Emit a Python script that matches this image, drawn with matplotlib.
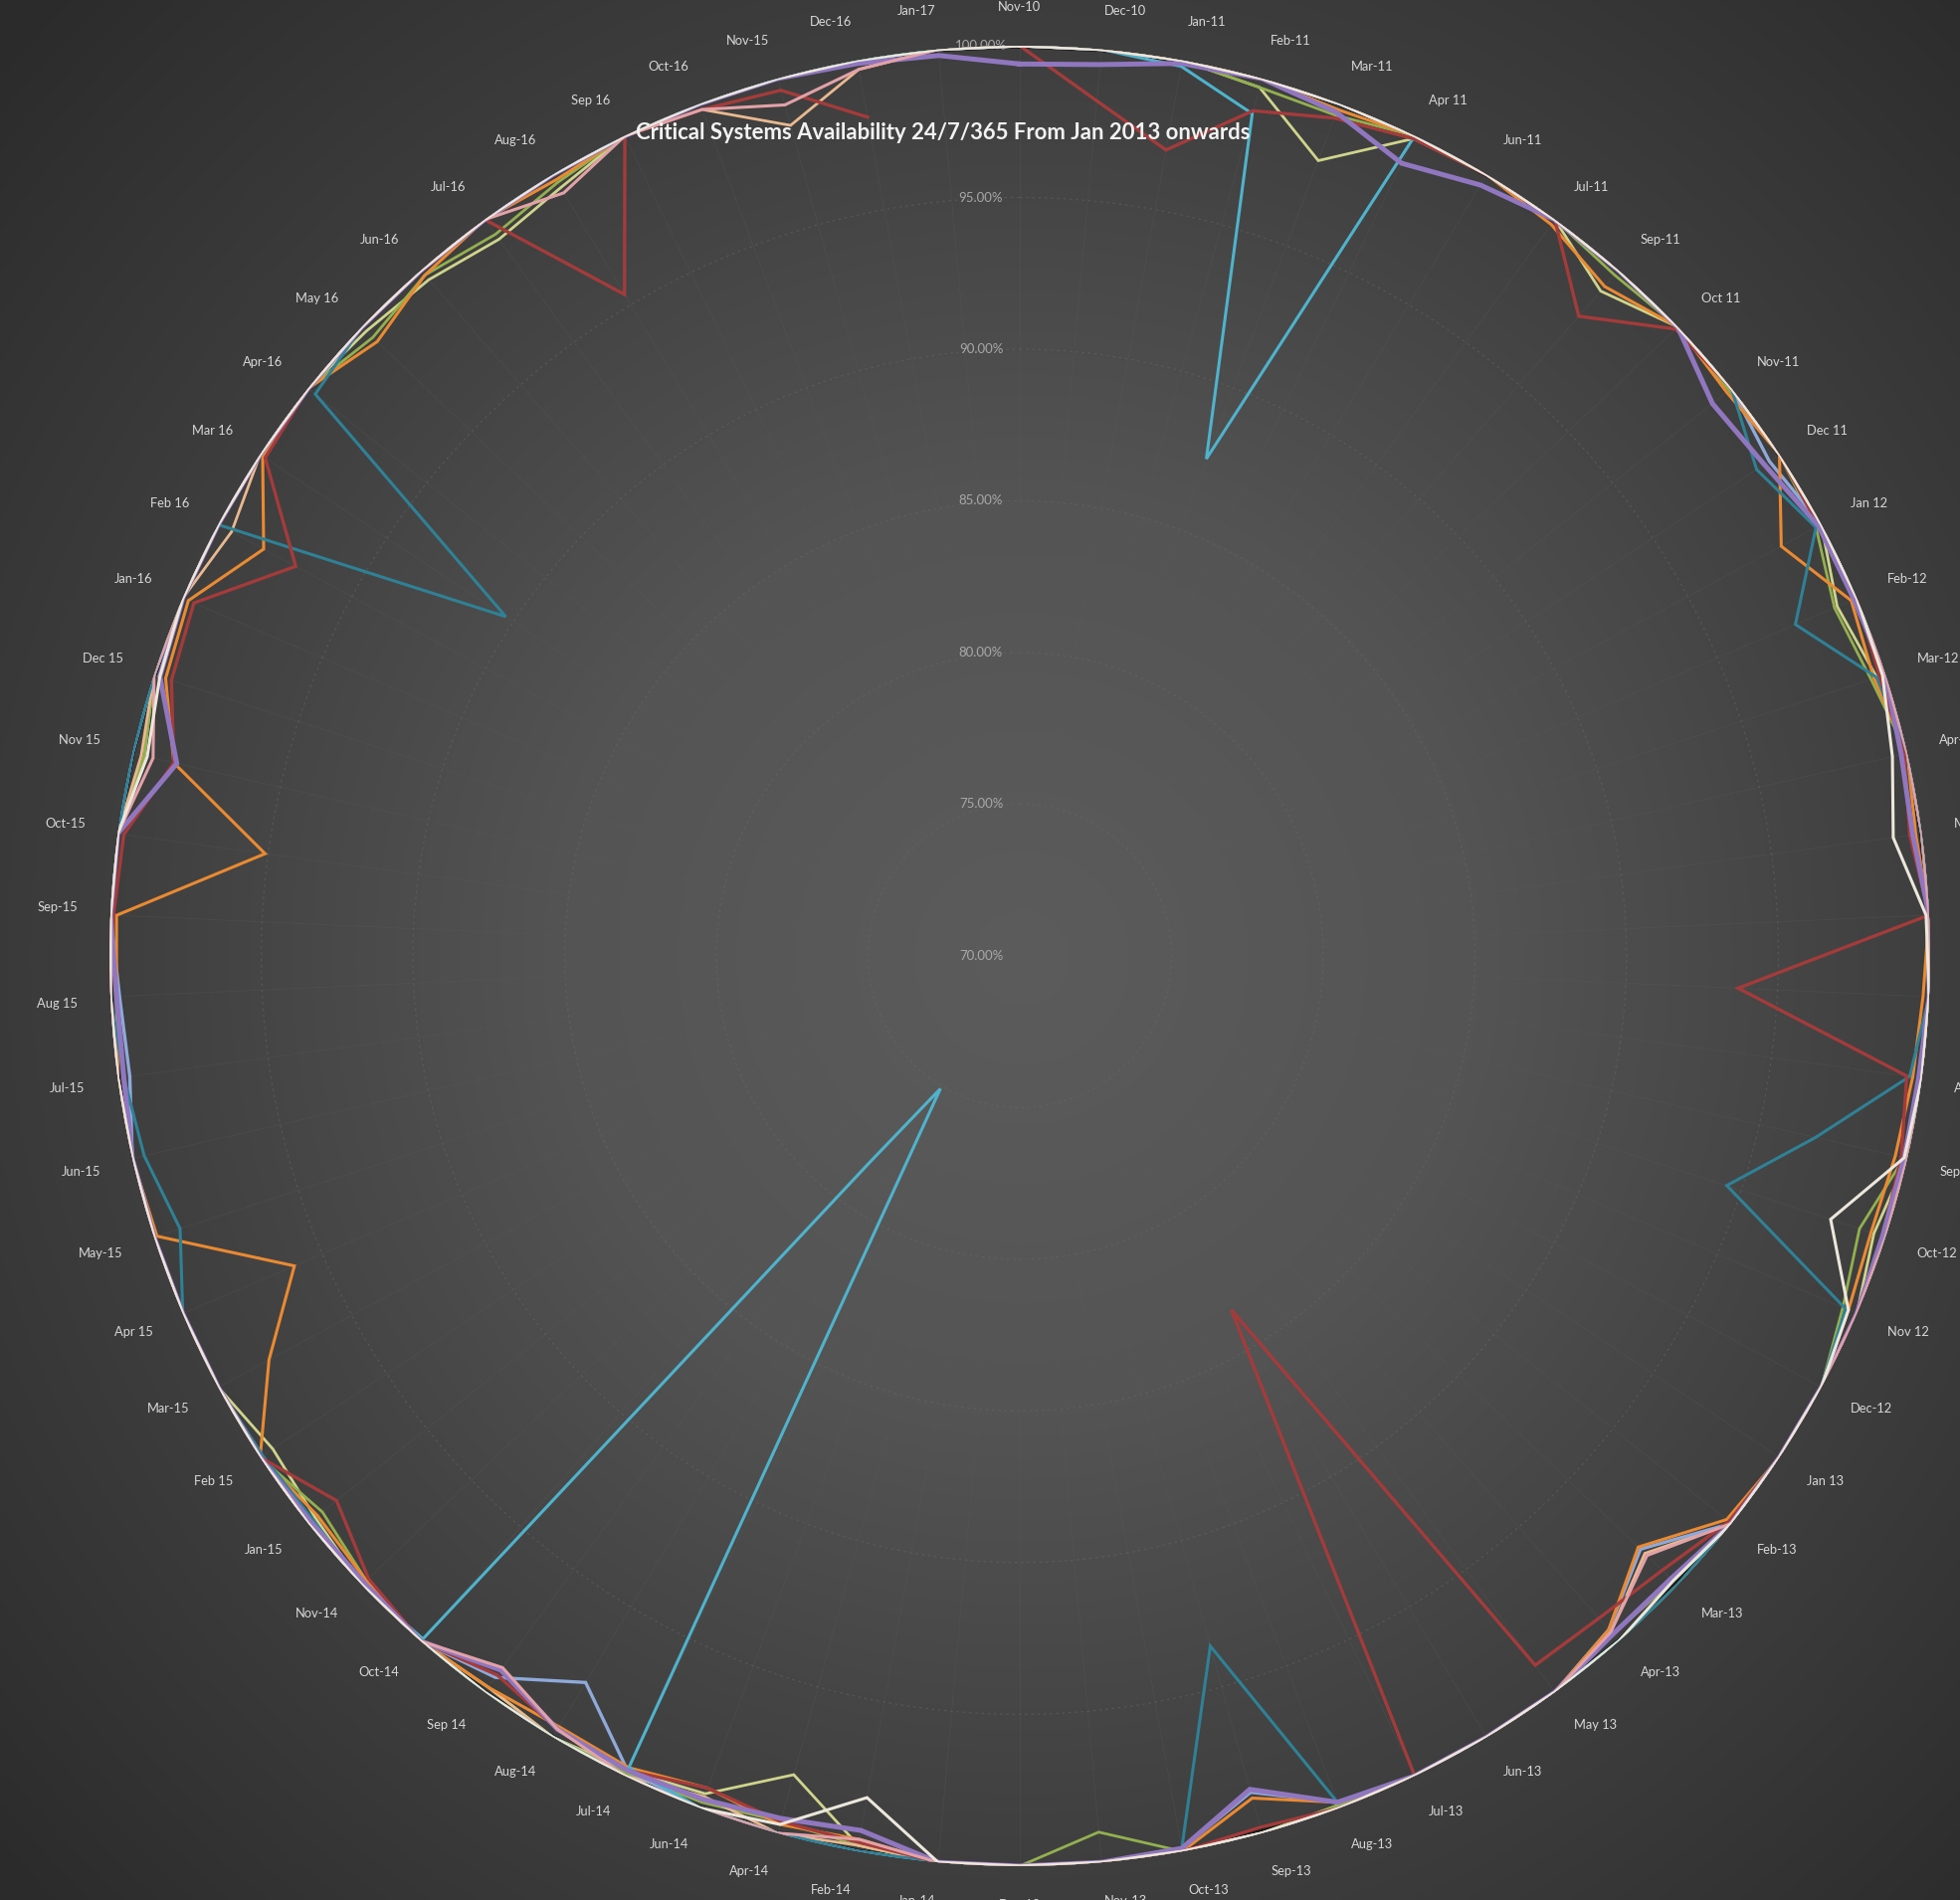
import numpy as np
import matplotlib
matplotlib.use("Agg")
import matplotlib.pyplot as plt

plt.rcParams['font.family'] = ['Lato', 'DejaVu Sans']

categories = ['Nov-10', 'Dec-10', 'Jan-11', 'Feb-11', 'Mar-11', 'Apr 11', 'Jun-11', 'Jul-11', 'Sep-11', 'Oct 11',
              'Nov-11', 'Dec 11', 'Jan 12', 'Feb-12', 'Mar-12', 'Apr-12', 'May-12', 'Jun-12', 'Jul-12', 'Aug-12',
              'Sep-12', 'Oct-12', 'Nov 12', 'Dec-12', 'Jan 13', 'Feb-13', 'Mar-13', 'Apr-13', 'May 13', 'Jun-13',
              'Jul-13', 'Aug-13', 'Sep-13', 'Oct-13', 'Nov-13', 'Dec-13', 'Jan-14', 'Feb-14', 'Apr-14', 'Jun-14',
              'Jul-14', 'Aug-14', 'Sep 14', 'Oct-14', 'Nov-14', 'Jan-15', 'Feb 15', 'Mar-15', 'Apr 15', 'May-15',
              'Jun-15', 'Jul-15', 'Aug 15', 'Sep-15', 'Oct-15', 'Nov 15', 'Dec 15', 'Jan-16', 'Feb 16', 'Mar 16',
              'Apr-16', 'May 16', 'Jun-16', 'Jul-16', 'Aug-16', 'Sep 16', 'Oct-16', 'Nov-15', 'Dec-16', 'Jan-17']

radial_ticks = [70, 75, 80, 85, 90, 95, 100]
radial_labels = ['70.00%', '75.00%', '80.00%', '85.00%', '90.00%', '95.00%', '100.00%']

nan = float('nan')

sys_black = [100, 100, 100, 100, 100, 100, 100, 100, 100, 100,
             100, 100, 100, 100, 100, 100, 100, 100, 100, 100,
             100, 100, 100, 100, 100, 100, 99.9, 100, 100, 100,
             100, 100, 99.9, 100, 100, 100, 100, 100, 100, 100,
             100, 100, 100, 100, 100, 100, 100, 100, 100, 100,
             100, 100, 100, 100, 100, 100, 100, 100, 100, 100,
             100, 100, 100, 100, 100, 100, 100, 100, 100, 100]

sys_cream = [100, 100, 100, 100, 100, 100, 100, 100, 100, 100,
             100, 100, 100, 100, 99.9, 99.5, 99.05, 99.9, 100, 100,
             99.9, 98.1, 99.7, 100, 100, 100, 99.8, 100, 100, 100,
             100, 100, 100, 100, 100, 100, 100, 98.2, 99.7, 100,
             100, 100, 100, 100, 100, 100, 100, 100, 100, 100,
             100, 100, 100, 100, 100, 99.5, 99.8, 100, 100, 100,
             100, 100, 100, 100, 100, 100, 100, 100, 100, 100]

sys_peach = [100, 100, 100, 100, 100, 100, 100, 100, 100, 100,
             100, 100, 100, 100, 100, 100, 100, 100, 100, 100,
             100, 100, 100, 100, 100, 100, 98.5, 99.6, 100, 100,
             100, 100, 100, 100, 100, 100, 100, 99.8, 100, 99.6,
             100, 100, 99.8, 100, 100, 100, 100, 100, 100, 100,
             100, 100, 100, 100, 100, 99.7, 100, 100, 99.5, 100,
             100, 100, 100, 100, 100, 100, 99.8, 98.4, 99.7, 100]

sys_khaki = [100, 100, 100, 99.7, 98.0, 99.9, 100, 100, 99.1, 100,
             100, 100, 100, 99.3, 99.7, 100, 100, 100, 100, 100,
             100, 99.6, 100, 100, 100, 100, 100, 100, 100, 100,
             100, 99.9, 100, 100, 100, 100, 100, 99.8, 98.0, 99.5,
             99.8, 100, 100, 100, 100, 99.7, 99.5, 100, 100, 100,
             100, 100, 100, 100, 100, 99.6, 100, 100, 100, 100,
             100, 99.8, 99.6, 99.2, 99.5, 100, 100, 100, 100, 100]

sys_olive = [100, 100, 100, 99.7, 99.6, 100, 100, 100, 99.8, 100,
             99.9, 100, 99.8, 99.2, 99.5, 100, 100, 100, 100, 100,
             99.9, 99.1, 99.5, 100, 100, 100, 99.8, 99.7, 100, 100,
             100, 99.9, 100, 100, 99.0, 100, 100, 99.8, 99.6, 99.8,
             99.9, 100, 99.8, 100, 99.8, 99.4, 100, 100, 100, 100,
             100, 100, 99.8, 100, 100, 99.6, 100, 100, 100, 100,
             100, 99.5, 99.8, 99.4, 99.7, 100, 100, 100, 100, 100]

sys_steel = [100, 100, 100, 100, 100, 100, 100, 100, 100, 100,
             100, 99.6, 100, 100, 100, 100, 100, 100, 100, 100,
             100, 100, 100, 100, 100, 100, 98.3, 99.5, 100, 100,
             100, 99.8, 98.6, 99.9, 100, 100, 100, 100, 100, 100,
             99.8, 97.9, 99.4, 100, 100, 100, 100, 100, 100, 100,
             100, 99.6, 99.7, 100, 100, 100, 100, 100, 100, 100,
             100, 100, 100, 100, 100, 100, 100, 100, 100, 100]

sys_pink = [100, 100, 100, 100, 100, 100, 100, 100, 100, 100,
            100, 100, 100, 100, 100, 100, 100, 100, 100, 100,
            100, 100, 100, 100, 100, 100, 98.6, 99.6, 100, 100,
            100, 100, 100, 100, 100, 100, 100, 99.6, 100, 100,
            100, 99.7, 99.0, 100, 100, 100, 100, 100, 100, 100,
            100, 100, 100, 100, 100, 99.3, 100, 100, 100, 100,
            100, 100, 100, 100, 99.3, 100, 99.8, 99.1, 99.7, 100]

sys_orange = [100, 100, 100, 100, 99.8, 100, 100, 99.8, 99.3, 100,
              99.8, 100, 98.5, 99.8, 99.6, 100, 99.8, 100, 99.8, 99.7,
              99.6, 99.5, 99.7, 100, 100, 99.8, 98.2, 99.5, 100, 100,
              100, 99.8, 98.8, 100, 100, 100, 100, 99.6, 99.7, 99.3,
              99.7, 99.6, 99.8, 100, 99.8, 99.6, 100, 98.1, 96.0, 99.9,
              100, 100, 99.8, 99.8, 95.1, 98.6, 99.6, 99.8, 98.3, 99.9,
              100, 99.3, 99.8, 100, 99.8, 100, 100, 100, 100, 100]

sys_lteal = [100, 100, 99.8, 98.8, 87.5, 100, 100, 100, 100, 100,
             100, 100, 100, 100, 100, 100, 100, 100, 100, 100,
             100, 100, 100, 100, 100, 100, 100, 100, 100, 100,
             100, 100, 100, 100, 100, 100, 100, 100, 100, 100,
             99.7, 75.1, 78.4, 99.9, 100, 100, 100, 100, 100, 100,
             100, 100, 100, 100, 100, 100, 100, 100, 100, 100,
             100, 100, 100, 100, 100, 100, 100, 100, 100, 100]

sys_teal = [100, 100, 100, 100, 100, 100, 100, 100, 100, 100,
            100, 99.1, 99.8, 97.8, 99.7, 100, 100, 100, 100, 99.6,
            96.9, 94.5, 99.6, 100, 100, 100, 100, 100, 100, 100,
            100, 99.8, 93.6, 99.9, 100, 100, 100, 100, 100, 100,
            100, 100, 100, 100, 100, 99.8, 99.9, 100, 100, 99.1,
            99.6, 99.8, 100, 100, 100, 100, 100, 100, 100, 90.3,
            99.7, 100, 100, 100, 100, 100, 100, 100, 100, 100]

sys_red = [100, 98.3, 97.0, 98.9, 99.5, 99.9, 100, 100, 98.0, 99.9,
           100, 100, 99.9, 100, 99.8, 99.9, 99.6, 100, 93.7, 99.5,
           99.8, 99.9, 100, 100, 100, 99.9, 99.3, 99.0, 98.9, 83.6,
           100, 100, 99.8, 100, 100, 100, 100, 99.7, 99.6, 99.3,
           99.8, 99.7, 99.3, 100, 99.7, 98.8, 100, 100, 100, 100,
           100, 100, 100, 99.9, 99.8, 98.6, 99.4, 99.6, 97.1, 99.8,
           100, 100, 100, 100, 95.4, 100, 99.8, 99.6, 98.1, nan]

sys_purple = [99.4, 99.5, 99.9, 100, 99.7, 99.0, 99.6, 100, 100, 100,
              99.2, 99.4, 99.9, 99.9, 100, 99.8, 99.7, 100, 100, 99.9,
              99.9, 99.9, 100, 100, 100, 100, 99.7, 99.7, 100, 100,
              100, 99.8, 98.5, 99.9, 100, 100, 100, 99.3, 99.5, 99.7,
              99.8, 99.7, 99.1, 100, 99.9, 99.9, 100, 100, 100, 100,
              100, 99.8, 99.8, 100, 100, 98.5, 99.8, 100, 100, 100,
              100, 100, 100, 100, 100, 100, 100, 100, 99.9, 99.8]

series = [
    (sys_black, '#1c1c1c', 3.6),
    (sys_khaki, '#cfd48c', 2.0),
    (sys_olive, '#93b04f', 2.0),
    (sys_peach, '#e9b98f', 2.0),
    (sys_steel, '#8fa9d9', 2.4),
    (sys_orange, '#ea8a32', 2.2),
    (sys_lteal, '#4fb3cc', 2.2),
    (sys_teal, '#2f8196', 2.2),
    (sys_red, '#a43b3b', 2.4),
    (sys_purple, '#9077bf', 3.6),
    (sys_pink, '#e2a2a8', 2.2),
    (sys_cream, '#ebe7dc', 2.2),
]

W_PX, H_PX = 1970, 1910
fig = plt.figure(figsize=(W_PX / 100, H_PX / 100), dpi=100)

# radial gradient background
bg = fig.add_axes([0, 0, 1, 1], zorder=0)
gh, gw = 382, 394
yy, xx = np.mgrid[0:gh, 0:gw]
cx, cy = 1025 / 5.0, 961 / 5.0
d = np.hypot(xx - cx, yy - cy) / (914 / 5.0)
g = np.interp(d, [0.0, 0.5, 1.0, 1.5], [0.36, 0.33, 0.245, 0.17])
bg.imshow(np.dstack([g, g, g]), extent=[0, 1, 0, 1], aspect='auto',
          interpolation='bilinear', origin='upper')
bg.set_axis_off()

ax = fig.add_axes([0.0558, 0.0179, 0.929, 0.958], projection='polar', zorder=1)
ax.patch.set_alpha(0)
ax.set_theta_zero_location('N')
ax.set_theta_direction(-1)
ax.set_ylim(70, 100)

n = len(categories)
theta = np.arange(n) * 2 * np.pi / n

ax.set_xticks(theta)
ax.set_xticklabels([])
ax.set_yticks(radial_ticks[1:])
ax.set_yticklabels([])
ax.xaxis.grid(True, color='#5c5c5c', lw=0.5, alpha=0.35)
ax.yaxis.grid(True, color='#6a6a6a', lw=0.9, alpha=0.45, linestyle=(0, (2, 3)))
ax.spines['polar'].set_visible(False)
ax.tick_params(length=0)

for vals, col, lw in series:
    v = np.array(vals + [vals[0]], dtype=float)
    t = np.append(theta, theta[0] + 2 * np.pi)
    ax.plot(t, v, color=col, lw=lw, solid_joinstyle='miter', zorder=3)

# radial axis labels (left of the vertical axis)
for val, lab in zip(radial_ticks, radial_labels):
    ax.annotate(lab, xy=(0, val), xytext=(-39, 0), textcoords='offset pixels',
                ha='center', va='center', fontsize=9.5, color='#a8a8a8', zorder=2)

# category labels: text box corner anchored just outside the spoke end
pad = 33
for t, lab in zip(theta, categories):
    s, c = np.sin(t), np.cos(t)
    ha = 'left' if s > 1e-6 else ('right' if s < -1e-6 else 'center')
    va = 'bottom' if c > 1e-6 else ('top' if c < -1e-6 else 'center')
    ax.annotate(lab, xy=(t, 100), xytext=(pad * s, pad * c), textcoords='offset pixels',
                ha=ha, va=va, fontsize=9.3, color='#d8d8d8', annotation_clip=False, zorder=2)

fig.text(0.481, 0.930, 'Critical Systems Availability 24/7/365 From Jan 2013 onwards',
         ha='center', va='center', fontsize=15.9, fontweight='bold', color='#f2f2f2', zorder=5)

fig.savefig('out.png', dpi=100, facecolor='#333333')
